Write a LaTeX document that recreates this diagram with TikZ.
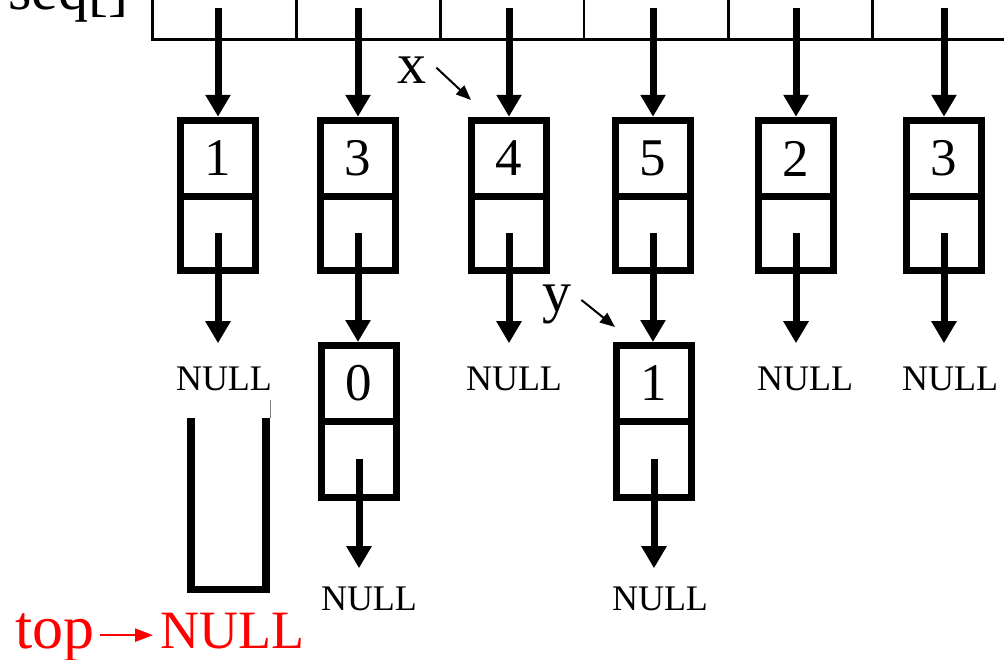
\documentclass[tikz,border=0pt]{standalone}
\usepackage{fontspec}
\setmainfont{Liberation Serif}
\usetikzlibrary{arrows.meta,calc}
\begin{document}
\begin{tikzpicture}[x=1pt,y=-1pt,
  cell/.style={draw, line width=2.5pt, minimum width=144pt, minimum height=81pt, inner sep=0pt, outer sep=0pt},
  valbox/.style={draw, line width=7pt, minimum width=75pt, minimum height=#1, inner sep=0pt, outer sep=0pt, font=\fontsize{53}{53}\selectfont},
  valbox/.default=76pt,
  ptrbox/.style={draw, line width=7pt, minimum width=75pt, minimum height=#1, inner sep=0pt, outer sep=0pt},
  ptrbox/.default=75pt,
  nulllbl/.style={inner sep=0pt, font=\fontsize{36}{36}\selectfont, anchor=base},
  bigarrow/.style={line width=7pt, -{Triangle[width=24pt,length=22pt]}},
  thinarrow/.style={line width=2pt, -{Triangle[width=12pt,length=15pt]}},
  lbltext/.style={inner sep=0pt, font=\fontsize{58}{58}\selectfont, anchor=base west},
]
\useasboundingbox (0,0) rectangle (1004,659);
\clip (0,0) rectangle (1004,659);

% seq[] label and array
\node[inner sep=0pt, font=\fontsize{60}{60}\selectfont, anchor=base west] (seq) at (8,9) {seq[]};
\node[cell] (c1) at (224.25,-1) {};
\node[cell] (c2) at (368.25,-1) {};
\node[cell] (c3) at (512,-1) {};
\node[cell] (c4) at (656,-1) {};
\node[cell] (c5) at (800.5,-1) {};
\node[cell] (c6) at (945,-1) {};

% first row nodes
\foreach \i/\x/\v in {1/218/1, 2/358/3, 3/509/4, 4/653/5, 5/796/2, 6/944/3} {
  \node[valbox=76.5pt] (n\i) at (\x,158.5) {\v};
  \node[ptrbox=74.5pt] (p\i) at (\x,233.25) {};
}
% second row nodes
\node[valbox=75.5pt] (m2) at (359,383.25) {0};
\node[ptrbox=76.5pt] (q2) at (359,459.25) {};
\node[valbox=75.5pt] (m4) at (654,383.25) {1};
\node[ptrbox=76.5pt] (q4) at (654,459.25) {};

% NULL labels
\node[nulllbl] (l1) at (224,390) {NULL};
\node[nulllbl] (l3) at (514,390) {NULL};
\node[nulllbl] (l5) at (805,390) {NULL};
\node[nulllbl] (l6) at (950,390) {NULL};
\node[nulllbl] (k2) at (369,610) {NULL};
\node[nulllbl] (k4) at (660,610) {NULL};

% arrows from seq cells
\foreach \i in {1,...,6} {
  \draw[bigarrow, shorten >=3.5pt] (n\i.north |- c\i.center) ++(0,9) -- (n\i.north);
}
% arrows from pointer fields
\draw[bigarrow, shorten >=23pt] (p1.center) -- (p1.center |- l1.north);
\draw[bigarrow, shorten >=3.5pt] (p2.center) -- (p2.center |- m2.north);
\draw[bigarrow, shorten >=23pt] (p3.center) -- (p3.center |- l3.north);
\draw[bigarrow, shorten >=3.5pt] (p4.center) -- (p4.center |- m4.north);
\draw[bigarrow, shorten >=23pt] (p5.center) -- (p5.center |- l5.north);
\draw[bigarrow, shorten >=23pt] (p6.center) -- (p6.center |- l6.north);
\draw[bigarrow, shorten >=18pt] (q2.center) -- (q2.center |- k2.north);
\draw[bigarrow, shorten >=18pt] (q4.center) -- (q4.center |- k4.north);

% x and y labels
\node[lbltext] (xl) at (397,83) {x};
\coordinate (xtip) at (471,100);
\draw[thinarrow] ([xshift=10pt]xl.east) ++(0,-2) -- (xtip);
\node[lbltext] (yl) at (542,311) {y};
\coordinate (ytip) at (615,327);
\draw[thinarrow] ([xshift=10pt]yl.east) ++(0,-4) -- (ytip);

% stack
\draw[line width=7.5pt, line join=miter] (191,418) -- (191,589.5) -- (266,589.5) -- (266,418);
\draw[gray, line width=1pt] (270,400) -- (270,418);

% top -> NULL
\node[red, inner sep=0pt, font=\fontsize{62}{62}\selectfont, anchor=base west] (top) at (15,648) {top};
\node[red, inner sep=0pt, font=\fontsize{54}{54}\selectfont, anchor=base west] (tnull) at (160,648) {NULL};
\draw[red, line width=2.5pt, -{Triangle[width=13pt,length=18pt]}, shorten >=7pt]
  ([xshift=5pt,yshift=2pt]top.east) -- ([yshift=2pt]top.east -| tnull.west);
\end{tikzpicture}
\end{document}
